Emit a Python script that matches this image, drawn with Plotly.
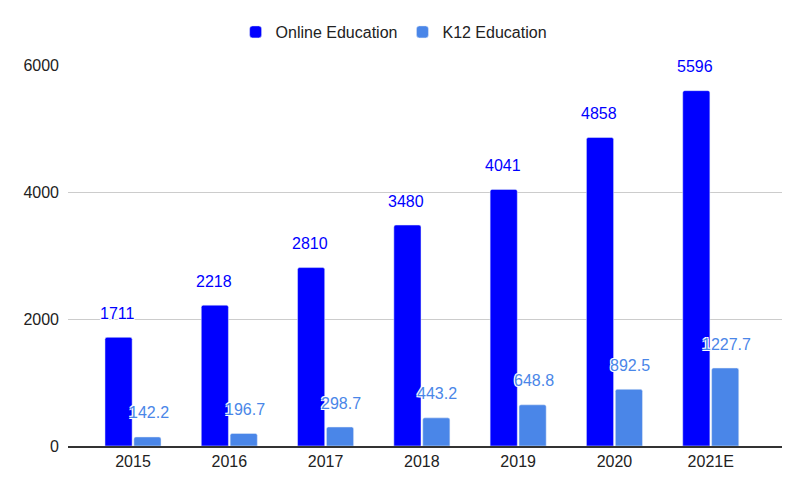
import plotly.graph_objects as go

years = ["2015", "2016", "2017", "2018", "2019", "2020", "2021E"]
online = [1711, 2218, 2810, 3480, 4041, 4858, 5596]
k12 = [142.2, 196.7, 298.7, 443.2, 648.8, 892.5, 1227.7]
online_labels = ["1711", "2218", "2810", "3480", "4041", "4858", "5596"]
k12_labels = ["142.2", "196.7", "298.7", "443.2", "648.8", "892.5", "1227.7"]

C_ON = "#0000ff"
C_K12 = "#4a86e8"
FONT = "Liberation Sans, Arial, sans-serif"
HALO = "-1px -1px 0 white, 1px -1px 0 white, -1px 1px 0 white, 1px 1px 0 white"

fig = go.Figure()
fig.add_trace(go.Bar(name="Online Education", x=years, y=online, marker=dict(color=C_ON, cornerradius=2)))
fig.add_trace(go.Bar(name="K12 Education", x=years, y=k12, marker=dict(color=C_K12, cornerradius=2)))

for i in range(len(years)):
    fig.add_annotation(x=i, y=online[i], text=online_labels[i], showarrow=False,
                       xshift=-15.5, yshift=24, font=dict(color=C_ON, size=16, family=FONT, shadow=HALO))
    fig.add_annotation(x=i, y=k12[i], text=k12_labels[i], showarrow=False,
                       xshift=15.5, yshift=24, font=dict(color=C_K12, size=16, family=FONT, shadow=HALO))

fig.update_layout(
    width=800, height=495,
    margin=dict(l=68, r=18, t=65, b=49, autoexpand=False),
    paper_bgcolor="white", plot_bgcolor="white",
    barmode="group", bargap=0.40, bargroupgap=0.06,
    font=dict(family=FONT, size=16, color="#222222"),
    legend=dict(orientation="h", x=0.492, xanchor="center", xref="container",
                y=1 - 32 / 495, yanchor="middle", yref="container",
                font=dict(size=16, color="#222222")),
    xaxis=dict(type="category", range=[-0.675, 6.74], showgrid=False,
               showline=True, linecolor="#333333", linewidth=1.5, ticks="",
               tickfont=dict(size=16, color="#222222")),
    yaxis=dict(range=[0, 6000], tickvals=[0, 2000, 4000, 6000], showgrid=True,
               gridcolor="#cccccc", zeroline=False, ticks="", ticklabelstandoff=8,
               tickfont=dict(size=16, color="#222222")),
)
fig.write_html("out.html")
